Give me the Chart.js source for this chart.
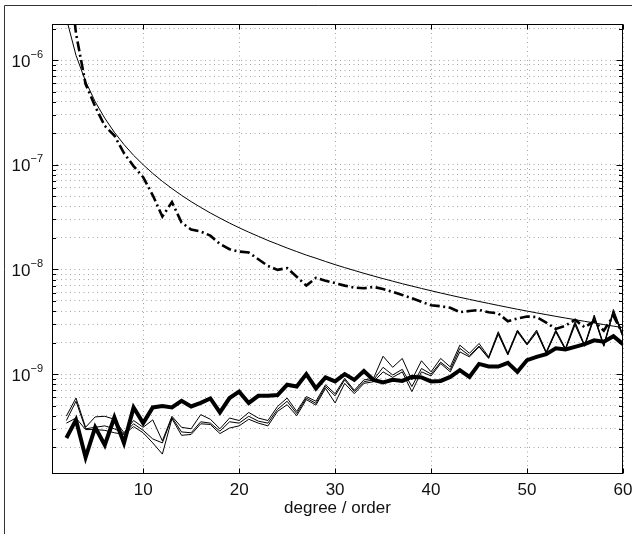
<!DOCTYPE html>
<html>
<head>
<meta charset="utf-8">
<title>degree / order</title>
<script src="https://cdn.jsdelivr.net/npm/chart.js@4.4.1/dist/chart.umd.min.js"></script>
<style>
  html, body { margin: 0; padding: 0; background: #fff; }
  #wrap { position: relative; width: 632px; height: 534px; }
</style>
</head>
<body>
<div id="wrap"><canvas id="chart" width="632" height="534"></canvas></div>
<script>
// x values (degree / order)
const degrees = [2, 3, 4, 5, 6, 7, 8, 9, 10, 11, 12, 13, 14, 15, 16, 17, 18, 19, 20,
    21, 22, 23, 24, 25, 26, 27, 28, 29, 30, 31, 32, 33, 34, 35, 36, 37, 38, 39, 40,
    41, 42, 43, 44, 45, 46, 47, 48, 49, 50, 51, 52, 53, 54, 55, 56, 57, 58, 59, 60];

// thin smooth curve
const smoothCurve = [2.5e-6, 1.11e-6, 6.25e-7, 4.0e-7, 2.78e-7, 2.04e-7, 1.56e-7, 1.23e-7, 1.0e-7,
    8.26e-8, 6.94e-8, 5.92e-8, 5.10e-8, 4.44e-8, 3.91e-8, 3.46e-8, 3.09e-8, 2.77e-8, 2.50e-8,
    2.27e-8, 2.07e-8, 1.89e-8, 1.74e-8, 1.60e-8, 1.48e-8, 1.37e-8, 1.28e-8, 1.19e-8, 1.11e-8,
    1.04e-8, 9.77e-9, 9.18e-9, 8.65e-9, 8.16e-9, 7.72e-9, 7.30e-9, 6.93e-9, 6.58e-9, 6.25e-9,
    5.95e-9, 5.67e-9, 5.41e-9, 5.17e-9, 4.94e-9, 4.73e-9, 4.53e-9, 4.34e-9, 4.16e-9, 4.00e-9,
    3.84e-9, 3.70e-9, 3.56e-9, 3.43e-9, 3.31e-9, 3.19e-9, 3.08e-9, 2.97e-9, 2.87e-9, 2.78e-9];

// thick dash-dot curve
const dashDotCurve = [1.2e-5, 1.8e-6, 5.9e-7, 3.6e-7, 2.35e-7, 1.9e-7, 1.29e-7, 9.7e-8, 7.6e-8,
    5.1e-8, 3.2e-8, 4.4e-8, 2.8e-8, 2.4e-8, 2.3e-8, 2.1e-8, 1.75e-8, 1.56e-8, 1.48e-8,
    1.45e-8, 1.25e-8, 1.08e-8, 9.9e-9, 1.03e-8, 8.5e-9, 7.0e-9, 8.3e-9, 7.8e-9, 7.4e-9,
    7.0e-9, 6.7e-9, 6.6e-9, 6.8e-9, 6.5e-9, 6.1e-9, 5.7e-9, 5.3e-9, 4.9e-9, 4.55e-9,
    4.45e-9, 4.3e-9, 3.9e-9, 4.0e-9, 4.1e-9, 3.9e-9, 3.8e-9, 3.2e-9, 3.4e-9, 3.55e-9,
    3.5e-9, 3.1e-9, 2.7e-9, 2.9e-9, 3.3e-9, 2.8e-9, 3.2e-9, 2.6e-9, 3.6e-9, 2.4e-9];

// thick solid curve
const thickCurve = [2.45e-10, 3.65e-10, 1.6e-10, 3.1e-10, 2.1e-10, 3.85e-10, 2.2e-10, 4.8e-10, 3.4e-10,
    4.8e-10, 4.95e-10, 4.8e-10, 5.55e-10, 4.9e-10, 5.3e-10, 5.85e-10, 4.3e-10, 5.9e-10, 6.8e-10,
    5.3e-10, 6.2e-10, 6.2e-10, 6.3e-10, 7.9e-10, 7.6e-10, 1.0e-9, 7.3e-10, 9.3e-10, 8.5e-10,
    1.0e-9, 8.8e-10, 1.07e-9, 8.8e-10, 8.3e-10, 8.8e-10, 8.6e-10, 9.4e-10, 9.3e-10, 8.5e-10,
    8.6e-10, 9.4e-10, 1.09e-9, 9.4e-10, 1.25e-9, 1.18e-9, 1.18e-9, 1.28e-9, 1.05e-9, 1.36e-9,
    1.46e-9, 1.55e-9, 1.76e-9, 1.72e-9, 1.82e-9, 1.93e-9, 2.1e-9, 2.04e-9, 2.3e-9, 1.93e-9];

// three thin zigzag curves
const thinA = [3.97e-10, 5.9e-10, 3.1e-10, 3.9e-10, 3.95e-10, 3.7e-10, 2.75e-10, 3.6e-10, 3.1e-10,
    3.65e-10, 2.3e-10, 3.95e-10, 3.1e-10, 3.0e-10, 4.1e-10, 3.7e-10, 3.0e-10, 3.8e-10, 3.6e-10,
    4.3e-10, 3.8e-10, 3.6e-10, 4.9e-10, 5.9e-10, 4.4e-10, 6.1e-10, 5.5e-10, 7.9e-10, 6.5e-10,
    9.1e-10, 7.0e-10, 8.8e-10, 9.1e-10, 1.48e-9, 1.16e-9, 1.41e-9, 8.8e-10, 1.34e-9, 1.05e-9,
    1.41e-9, 1.17e-9, 1.89e-9, 1.58e-9, 1.96e-9, 1.46e-9, 2.54e-9, 1.58e-9, 2.63e-9, 1.96e-9,
    2.63e-9, 1.63e-9, 2.63e-9, 1.76e-9, 3.16e-9, 1.89e-9, 3.66e-9, 1.89e-9, 4.15e-9, 2.36e-9];
const thinB = [3.6e-10, 5.5e-10, 3.0e-10, 3.1e-10, 3.2e-10, 3.0e-10, 2.7e-10, 3.35e-10, 2.9e-10,
    2.4e-10, 2.2e-10, 3.85e-10, 2.8e-10, 2.75e-10, 3.5e-10, 3.4e-10, 2.85e-10, 3.5e-10, 3.4e-10,
    3.95e-10, 3.55e-10, 3.4e-10, 4.6e-10, 5.5e-10, 4.2e-10, 5.9e-10, 5.25e-10, 7.6e-10, 6.2e-10,
    8.8e-10, 6.8e-10, 8.45e-10, 8.8e-10, 1.16e-9, 9.8e-10, 1.11e-9, 7.6e-10, 1.13e-9, 1.0e-9,
    1.3e-9, 1.1e-9, 1.76e-9, 1.5e-9, 1.85e-9, 1.43e-9, 2.45e-9, 1.55e-9, 2.58e-9, 1.92e-9,
    2.55e-9, 1.6e-9, 2.58e-9, 1.72e-9, 3.05e-9, 1.86e-9, 3.55e-9, 1.86e-9, 4.0e-9, 2.3e-9];
const thinC = [3.4e-10, 3.8e-10, 2.95e-10, 2.95e-10, 2.9e-10, 2.75e-10, 2.65e-10, 3.15e-10, 2.75e-10,
    2.2e-10, 1.72e-10, 3.75e-10, 2.6e-10, 2.65e-10, 3.35e-10, 3.3e-10, 2.7e-10, 3.05e-10, 3.2e-10,
    3.7e-10, 3.4e-10, 3.2e-10, 4.4e-10, 5.1e-10, 4.0e-10, 5.7e-10, 5.05e-10, 7.3e-10, 5.3e-10,
    8.15e-10, 6.5e-10, 8.15e-10, 8.45e-10, 1.05e-9, 9.3e-10, 1.05e-9, 6.8e-10, 1.05e-9, 9.6e-10,
    1.26e-9, 1.05e-9, 1.63e-9, 1.46e-9, 1.82e-9, 1.41e-9, 2.4e-9, 1.52e-9, 2.52e-9, 1.9e-9,
    2.5e-9, 1.58e-9, 2.52e-9, 1.7e-9, 2.95e-9, 1.84e-9, 3.45e-9, 1.84e-9, 3.9e-9, 2.25e-9];

// axes
const xTicks = [10, 20, 30, 40, 50, 60];
const yDecades = [-10, -9, -8, -7, -6];
const yMantissas = [1, 2, 3, 4, 5, 6, 7, 8, 9];
const yLabelExps = [-9, -8, -7, -6];
const xLabel = "degree / order";
const xMin = 0.5, xMax = 60;
const yMin = 1.11e-10, yMax = 2.21e-6;

const yGrid = [];
yDecades.forEach(e => yMantissas.forEach(m => {
    const v = m * Math.pow(10, e);
    if (v >= yMin && v <= yMax) yGrid.push(v);
}));

const gridColor = "#a4a4a4";
const mainFont = '17px "Liberation Sans", Arial, Helvetica, sans-serif';
const supFont = '11px "Liberation Sans", Arial, Helvetica, sans-serif';

function toPoints(values) {
    return degrees.map((d, i) => ({ x: d, y: values[i] }));
}

// MATLAB-like box, inward ticks and labels
const matlabAxes = {
    id: "matlabAxes",
    afterDraw(chart) {
        const { ctx, chartArea: a, scales: { x, y } } = chart;
        const L = Math.round(a.left) + 0.5, R = Math.round(a.right) - 0.5;
        const T = Math.round(a.top) + 0.5, B = Math.round(a.bottom) - 0.5;
        ctx.save();

        // outer figure frame
        ctx.strokeStyle = "#333";
        ctx.lineWidth = 1;
        ctx.beginPath();
        ctx.moveTo(4.5, 534);
        ctx.lineTo(4.5, 5.5);
        ctx.lineTo(632, 5.5);
        ctx.stroke();

        // axes box
        ctx.strokeStyle = "#000";
        ctx.strokeRect(L, T, R - L, B - T);

        // x ticks (bottom and top)
        ctx.beginPath();
        xTicks.forEach(v => {
            const px = Math.round(x.getPixelForValue(v)) + 0.5;
            ctx.moveTo(px, B); ctx.lineTo(px, B - 5);
            ctx.moveTo(px, T); ctx.lineTo(px, T + 5);
        });
        // y ticks (left and right)
        yGrid.forEach(v => {
            const py = Math.round(y.getPixelForValue(v)) + 0.5;
            const len = (Math.abs(Math.log10(v) - Math.round(Math.log10(v))) < 1e-9) ? 6 : 3.5;
            ctx.moveTo(L, py); ctx.lineTo(L + len, py);
            ctx.moveTo(R, py); ctx.lineTo(R - len, py);
        });
        ctx.stroke();

        // x tick labels
        ctx.fillStyle = "#111";
        ctx.font = mainFont;
        ctx.textAlign = "center";
        ctx.textBaseline = "alphabetic";
        xTicks.forEach(v => {
            ctx.fillText(String(v), x.getPixelForValue(v), B + 21);
        });

        // x axis title
        ctx.fillText(xLabel, (a.left + a.right) / 2, B + 39);

        // y tick labels as 10^n
        ctx.textAlign = "left";
        yLabelExps.forEach(e => {
            const py = y.getPixelForValue(Math.pow(10, e));
            const sup = "\u2212" + Math.abs(e);
            ctx.font = supFont;
            const ws = ctx.measureText(sup).width;
            ctx.font = mainFont;
            const wb = ctx.measureText("10").width;
            const right = a.left - 9;
            ctx.fillText("10", right - ws - wb, py + 6.5);
            ctx.font = supFont;
            ctx.fillText(sup, right - ws, py - 2.5);
        });
        ctx.restore();
    }
};

const ctx = document.getElementById("chart").getContext("2d");

new Chart(ctx, {
    type: "line",
    data: {
        datasets: [
            { data: toPoints(thickCurve), borderColor: "#000", borderWidth: 4 },
            { data: toPoints(dashDotCurve), borderColor: "#000", borderWidth: 2.6, borderDash: [10, 3.5, 2, 3.5] },
            { data: toPoints(smoothCurve), borderColor: "#000", borderWidth: 1 },
            { data: toPoints(thinA), borderColor: "#000", borderWidth: 1 },
            { data: toPoints(thinB), borderColor: "#000", borderWidth: 1 },
            { data: toPoints(thinC), borderColor: "#000", borderWidth: 1 }
        ]
    },
    options: {
        responsive: false,
        animation: false,
        events: [],
        layout: { padding: { left: 52, top: 24, right: 9, bottom: 60 } },
        plugins: { legend: { display: false }, tooltip: { enabled: false } },
        elements: {
            point: { radius: 0 },
            line: { tension: 0, borderJoinStyle: "miter", fill: false }
        },
        scales: {
            x: {
                type: "linear",
                min: xMin,
                max: xMax,
                afterBuildTicks: scale => { scale.ticks = xTicks.map(v => ({ value: v })); },
                ticks: { display: false },
                grid: { color: gridColor, lineWidth: 1, drawTicks: false },
                border: { display: false, dash: [1, 3.5] }
            },
            y: {
                type: "logarithmic",
                min: yMin,
                max: yMax,
                afterBuildTicks: scale => { scale.ticks = yGrid.map(v => ({ value: v })); },
                ticks: { display: false },
                grid: { color: gridColor, lineWidth: 1, drawTicks: false },
                border: { display: false, dash: [1, 3.5] }
            }
        }
    },
    plugins: [matlabAxes]
});
</script>
</body>
</html>
